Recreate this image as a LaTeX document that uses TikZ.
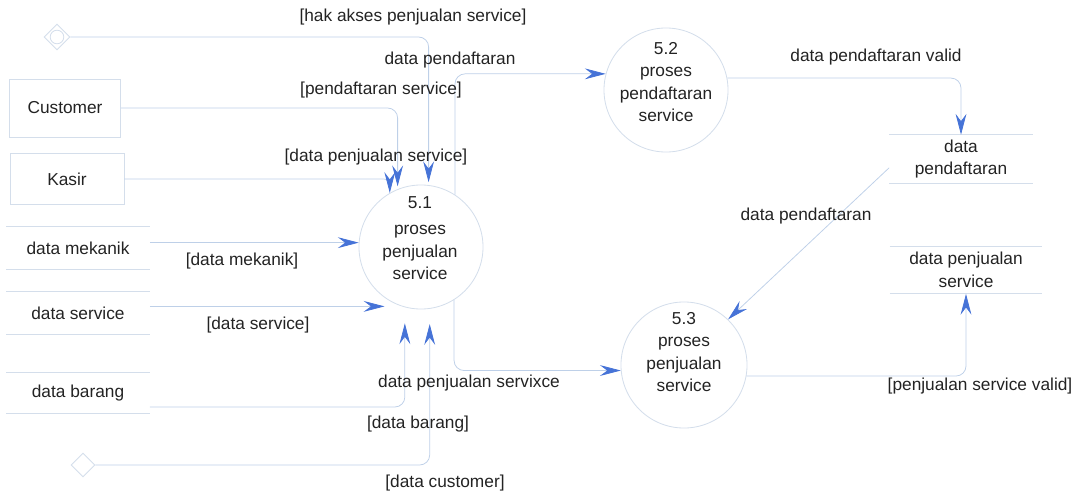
\documentclass[tikz,border=0pt]{standalone}
\usepackage{fontspec}
\setmainfont{Liberation Sans}
\usetikzlibrary{arrows.meta,shapes.geometric}
\definecolor{flowline}{RGB}{190,208,232}
\definecolor{faintline}{RGB}{212,222,235}
\definecolor{arrowblue}{RGB}{70,115,215}
\definecolor{inkgrey}{RGB}{35,35,35}
\begin{document}
\begin{tikzpicture}[x=0.025cm,y=-0.025cm,
  every node/.style={font=\fontsize{12.3}{16}\selectfont,text=inkgrey},
  proc/.style={circle,draw=faintline,line width=0.6pt,minimum size=3.1cm,inner sep=0pt},
  ptext/.style={align=center,inner sep=0pt},
  entity/.style={rectangle,draw=faintline,line width=0.6pt,inner sep=0pt},
  gate/.style={diamond,draw=faintline,line width=0.6pt,inner sep=0pt},
  store/.style={rectangle,inner sep=0pt,align=center,minimum width=3.58cm,
    append after command={(\tikzlastnode.north west) edge[faintline,line width=0.6pt] (\tikzlastnode.north east)
      (\tikzlastnode.south west) edge[faintline,line width=0.6pt] (\tikzlastnode.south east)}},
  flow/.style={draw=flowline,line width=0.55pt,rounded corners=0.25cm,
    -{Stealth[length=5.2mm,width=2.7mm,inset=1.8mm,color=arrowblue]}},
  lbl/.style={inner sep=0pt}]
  \useasboundingbox (0,0) rectangle (1077,494);

  \node[entity,minimum width=2.78cm,minimum height=1.45cm] (cust) at (65,108) {Customer};
  \node[entity,minimum width=2.85cm,minimum height=1.28cm] (kasir) at (67,179) {Kasir};
  \node[store,minimum height=1.08cm] (dmek) at (78,248) {data mekanik};
  \node[store,minimum height=1.08cm] (dserv) at (78,313) {data service};
  \node[store,minimum height=1cm] (dbar) at (78,393) {data barang};
  \node[store,minimum height=1.2cm] (dpend) at (961,159) {data\\pendaftaran};
  \node[store,minimum width=3.8cm,minimum height=1.18cm] (dpenj) at (966,270) {data penjualan\\service};

  \node[gate,minimum size=0.65cm] (dia1) at (57,37) {};
  \draw[faintline,line width=0.6pt] (dia1.center) circle (0.17cm);
  \node[gate,minimum size=0.6cm] (dia2) at (83,465) {};

  \node[proc] (p1) at (421,247) {};
  \node[ptext] (p1t) at (420,238) {5.1\\[3pt]proses\\penjualan\\service};
  \node[proc] (p2) at (666,90) {};
  \node[ptext] (p2t) at (666,82) {5.2\\proses\\pendaftaran\\service};
  \node[proc,minimum size=3.15cm] (p3) at (684,365) {};
  \node[ptext] (p3t) at (684,352) {5.3\\proses\\penjualan\\service};

  \draw[flow,shorten >=2pt] (dia1.east) -| (p1.83);
  \draw[flow,shorten >=2pt] (cust.east) -| (p1.112);
  \draw[flow,rounded corners=0.15cm] (kasir.east) -| (p1.120);
  \draw[flow] (p1.176 -| dmek.east) -- (p1.176);
  \draw[flow,shorten >=0.43cm] (p1.252 -| dserv.east) -- (p1.252);
  \draw[flow,shorten >=0.4cm] ([yshift=-0.35cm]dbar.east) -| (p1.255);
  \draw[flow,shorten >=0.38cm] (dia2.east) -| (p1.278);
  \draw[flow] (p1.57) |- (p2.165);
  \draw[flow] (p1.302) |- (p3.185);
  \draw[flow] (p2.11) -| (dpend.north);
  \draw[flow] ([yshift=-0.22cm]dpend.west) -- (p3.46);
  \draw[flow] (p3.-10) -| (dpenj.south);

  \node[lbl] (lhak) at (413,17) {[hak akses penjualan service]};
  \node[lbl] (lpend1) at (450,60) {data pendaftaran};
  \node[lbl] (lpendsv) at (381,90) {[pendaftaran service]};
  \node[lbl] (lpenjsv) at (376,157) {[data penjualan service]};
  \node[lbl] (lmek) at (242,261) {[data mekanik]};
  \node[lbl] (lserv) at (258,325) {[data service]};
  \node[lbl] (lpenjx) at (469,383) {data penjualan servixce};
  \node[lbl] (lbar) at (418,424) {[data barang]};
  \node[lbl] (lcust) at (445,483) {[data customer]};
  \node[lbl] (lvalid) at (876,57) {data pendaftaran valid};
  \node[lbl] (lpend2) at (806,216) {data pendaftaran};
  \node[lbl] (lpjvalid) at (980,386) {[penjualan service valid]};
\end{tikzpicture}
\end{document}
